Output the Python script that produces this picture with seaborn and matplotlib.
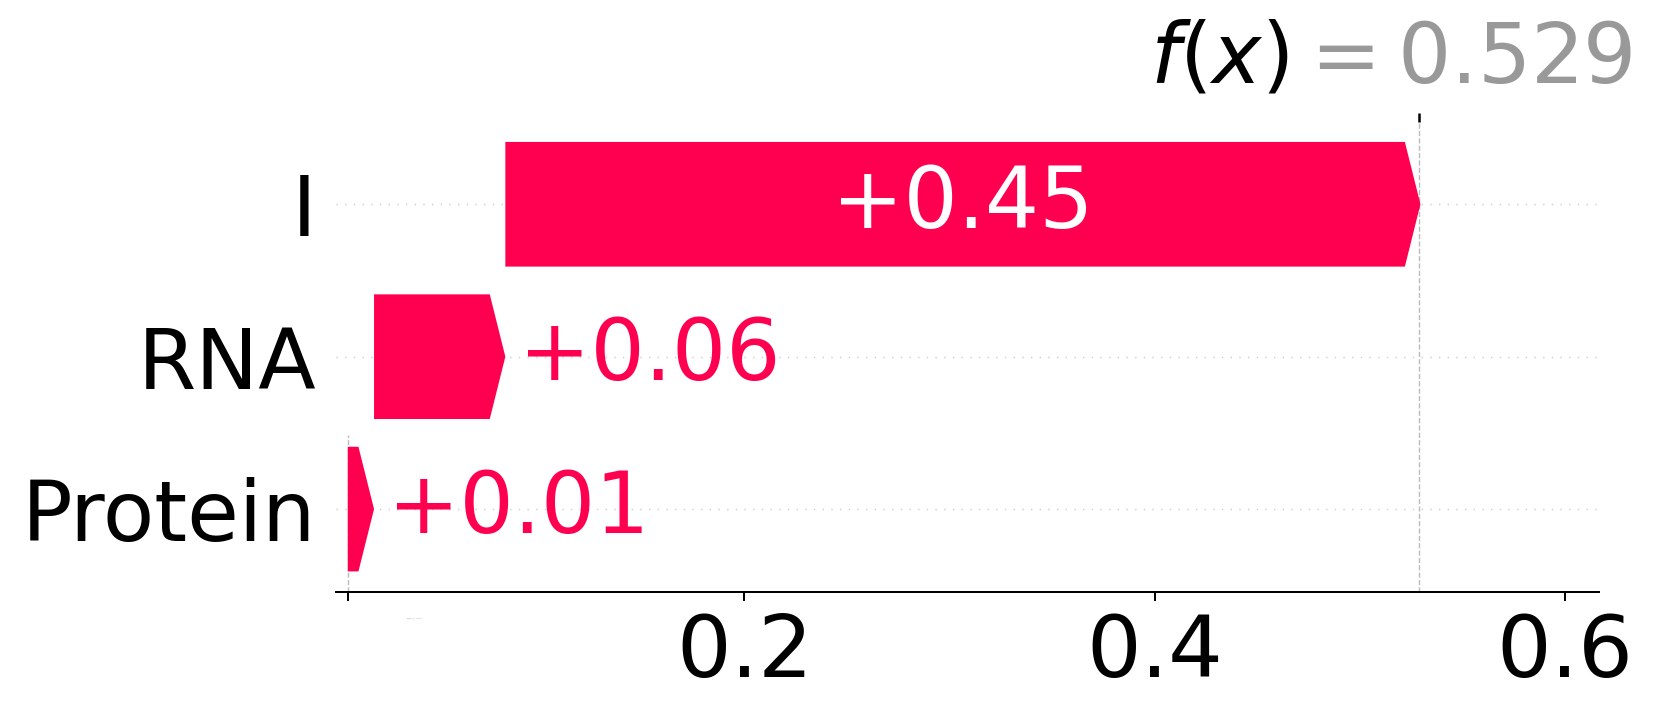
import matplotlib
matplotlib.use("Agg")

import matplotlib.pyplot as plt
import seaborn as sns

# waterfall values
features = ["Protein", "RNA", "I"]
contribs = [0.0128, 0.064, 0.446]
base_value = 0.0067
fx_value = 0.529

x_ticks = [0.2, 0.4, 0.6]
x_tick_labels = ["0.2", "0.4", "0.6"]

RED = "#ff0051"

sns.set_theme(style="white")
plt.rcParams["font.family"] = ["DejaVu Sans"]
plt.rcParams["mathtext.fontset"] = "dejavusans"
plt.rcParams["text.color"] = "black"
plt.rcParams["xtick.color"] = "black"
plt.rcParams["ytick.color"] = "black"

fig = plt.figure(figsize=(16.61, 7.14), dpi=100)
ax = fig.add_axes([0.2023, 0.1713, 0.7606, 0.6583])

xmin, xmax = 0.00097, 0.6167
bar_h = 0.818
head = 0.0076

# stacked arrows, bottom feature first
left = base_value
for i, (name, w) in enumerate(zip(features, contribs)):
    hl = min(head, w)
    xs = [left, left + w - hl, left + w, left + w - hl, left]
    ys = [i - bar_h / 2, i - bar_h / 2, i, i + bar_h / 2, i + bar_h / 2]
    ax.fill(xs, ys, color=RED, lw=0, zorder=2)
    label = "%+0.02f" % w
    if w > 0.2:
        ax.text(left + w / 2, i, label, ha="center", va="center",
                color="white", fontsize=61.5, zorder=3)
    else:
        ax.annotate(label, xy=(left + w, i), xytext=(10, 0),
                    textcoords="offset points", ha="left", va="center",
                    color=RED, fontsize=61.5, zorder=3)
    left += w

for i in range(len(features)):
    ax.axhline(i, color="#cccccc", lw=1.0, dashes=(1, 5.25), zorder=-1)

ax.axvline(base_value, 0, 1 / len(features), color="#bbbbbb", ls="--", lw=1.0, zorder=-1)
ax.axvline(fx_value, 0, 1, color="#bbbbbb", ls="--", lw=1.0, zorder=-1)

ax.set_xlim(xmin, xmax)
ax.set_ylim(-0.542, 2.542)
ax.set_yticks(range(len(features)))
ax.set_yticklabels(features, fontsize=60.5, color="black")
ax.set_xticks(x_ticks)
ax.set_xticklabels(x_tick_labels, fontsize=62, color="black")
ax.tick_params(axis="y", length=0, pad=14)
ax.tick_params(axis="x", length=6.5, width=1.44, color="black", pad=8)
sns.despine(ax=ax, left=True, top=True, right=True)
ax.spines["bottom"].set_color("black")
ax.spines["bottom"].set_linewidth(1.44)

# base value tick (bottom) with its very small label
ax2 = ax.twiny()
ax2.set_xlim(xmin, xmax)
ax2.xaxis.set_ticks_position("bottom")
ax2.set_xticks([base_value])
ax2.set_xticklabels([""])
ax2.tick_params(axis="x", length=6.5, width=1.44, color="black")
for s in ax2.spines.values():
    s.set_visible(False)
ax.annotate("$E[f(X)] = %0.3f$" % base_value, xy=(base_value, 0),
            xycoords=("data", "axes fraction"), xytext=(42, -20),
            textcoords="offset points", ha="left", va="center",
            fontsize=1.5, color="#999999")

# f(x) tick on top
ax3 = ax.twiny()
ax3.set_xlim(xmin, xmax)
ax3.set_xticks([fx_value])
ax3.set_xticklabels([""])
ax3.tick_params(axis="x", length=6.8, width=1.8, color="black")
for s in ax3.spines.values():
    s.set_visible(False)
ax.annotate("$f(x)$", xy=(fx_value, 1), xycoords=("data", "axes fraction"),
            xytext=(-94, 27.9), textcoords="offset points", ha="right",
            va="baseline", fontsize=60, color="black")
ax.annotate("$= %0.3f$" % fx_value, xy=(fx_value, 1), xycoords=("data", "axes fraction"),
            xytext=(-90, 27.9), textcoords="offset points", ha="left",
            va="baseline", fontsize=60.5, color="#999999")

fig.savefig("out.png", dpi=100)
